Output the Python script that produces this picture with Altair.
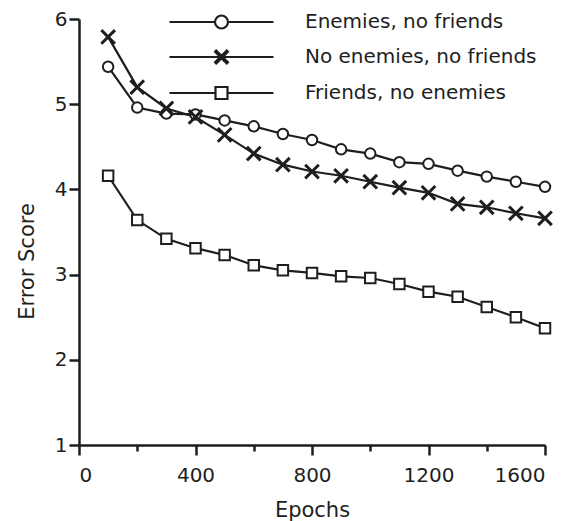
import altair as alt
import pandas as pd

epochs = [100, 200, 300, 400, 500, 600, 700, 800, 900, 1000, 1100, 1200, 1300, 1400, 1500, 1600]
enemies_no_friends = [5.44, 4.96, 4.89, 4.88, 4.81, 4.74, 4.65, 4.58, 4.47, 4.42, 4.32, 4.30, 4.22, 4.15, 4.09, 4.03]
no_enemies_no_friends = [5.79, 5.20, 4.95, 4.85, 4.64, 4.42, 4.29, 4.21, 4.16, 4.09, 4.02, 3.96, 3.83, 3.79, 3.72, 3.66]
friends_no_enemies = [4.16, 3.64, 3.42, 3.31, 3.23, 3.11, 3.05, 3.02, 2.98, 2.96, 2.89, 2.80, 2.74, 2.62, 2.50, 2.37]

series_names = ["Enemies, no friends", "No enemies, no friends", "Friends, no enemies"]
series_values = [enemies_no_friends, no_enemies_no_friends, friends_no_enemies]

rows = []
for name, vals in zip(series_names, series_values):
    for e, v in zip(epochs, vals):
        rows.append({"series": name, "epoch": e, "score": v})
df = pd.DataFrame(rows)

INK = "#1e1e1e"
FONT = "DejaVu Sans"

# marker shapes for data points
marker_shapes = ["circle", "M-1.3,-1.3L1.3,1.3M1.3,-1.3L-1.3,1.3", "square"]
marker_widths = [2, 3, 2]
# legend symbols: line with marker in the middle (unit = 12px)
legend_shapes = [
    "M-4.333,0H-0.54M0.54,0H4.333M-0.54,0A0.54,0.54,0,1,0,0.54,0A0.54,0.54,0,1,0,-0.54,0Z",
    "M-4.333,0H4.333M-0.55,-0.55L0.55,0.55M0.55,-0.55L-0.55,0.55"
    "M-0.5,-0.6L0.6,0.5M-0.6,-0.5L0.5,0.6M0.5,-0.6L-0.6,0.5M0.6,-0.5L-0.5,0.6",
    "M-4.333,0H-0.5M0.5,0H4.333M-0.5,-0.5H0.5V0.5H-0.5Z",
]

x_enc = alt.X(
    "epoch:Q",
    scale=alt.Scale(domain=[0, 1600], nice=False, zero=False),
    axis=alt.Axis(
        title="Epochs",
        values=list(range(0, 1601, 200)),
        labelExpr="datum.value % 400 === 0 ? datum.label : ''",
        tickSize={"condition": {"test": "datum.value % 400 === 0", "value": 10}, "value": 6},
        labelPadding=10,
        titlePadding=14,
        format="d",
    ),
)
y_enc = alt.Y(
    "score:Q",
    scale=alt.Scale(domain=[1, 6], nice=False, zero=False),
    axis=alt.Axis(
        title="Error Score",
        values=[1, 1.5, 2, 2.5, 3, 3.5, 4, 4.5, 5, 5.5, 6],
        labelExpr="datum.value % 1 === 0 ? datum.label : ''",
        tickSize={"condition": {"test": "datum.value % 1 === 0", "value": 10}, "value": 6},
        labelPadding=2,
        titlePadding=17,
        titleY=242,
        format="d",
    ),
)

lines = alt.Chart(df).mark_line(color=INK, strokeWidth=2.2).encode(
    x=x_enc, y=y_enc, detail="series:N", order="epoch:Q"
)

points = alt.Chart(df).mark_point(
    filled=True, fill="white", stroke=INK, size=110, opacity=1
).encode(
    x="epoch:Q",
    y="score:Q",
    shape=alt.Shape("series:N", scale=alt.Scale(domain=series_names, range=marker_shapes), legend=None),
    strokeWidth=alt.StrokeWidth(
        "series:N",
        scale=alt.Scale(type="ordinal", domain=series_names, range=marker_widths),
        legend=None,
    ),
)

legend_layer = alt.Chart(df).mark_point(filled=False, color=INK, opacity=0).encode(
    x="epoch:Q",
    y="score:Q",
    shape=alt.Shape(
        "series:N",
        scale=alt.Scale(domain=series_names, range=legend_shapes),
        legend=alt.Legend(
            title=None,
            orient="none",
            legendX=129,
            legendY=-10.5,
            padding=0,
            symbolSize=576,
            symbolStrokeWidth=2.2,
            symbolStrokeColor=INK,
            symbolOpacity=1,
            labelOffset=70,
            rowPadding=10,
            labelFont=FONT,
            labelFontSize=20,
            labelColor=INK,
            labelLimit=0,
        ),
    ),
)

chart = (
    alt.layer(lines, points, legend_layer)
    .resolve_scale(shape="independent")
    .properties(
        width=466,
        height=426,
        autosize=alt.AutoSizeParams(type="none"),
        padding={"left": 71, "top": 11, "right": 27, "bottom": 76},
    )
    .configure_view(stroke=None)
    .configure_axis(
        grid=False,
        domainColor=INK,
        domainWidth=2.5,
        tickColor=INK,
        tickWidth=2.5,
        labelFont=FONT,
        labelFontSize=20,
        labelColor=INK,
        titleFont=FONT,
        titleFontSize=21,
        titleFontWeight="normal",
        titleColor=INK,
    )
)

chart.save("out.html", embed_options={"renderer": "svg", "actions": False})
